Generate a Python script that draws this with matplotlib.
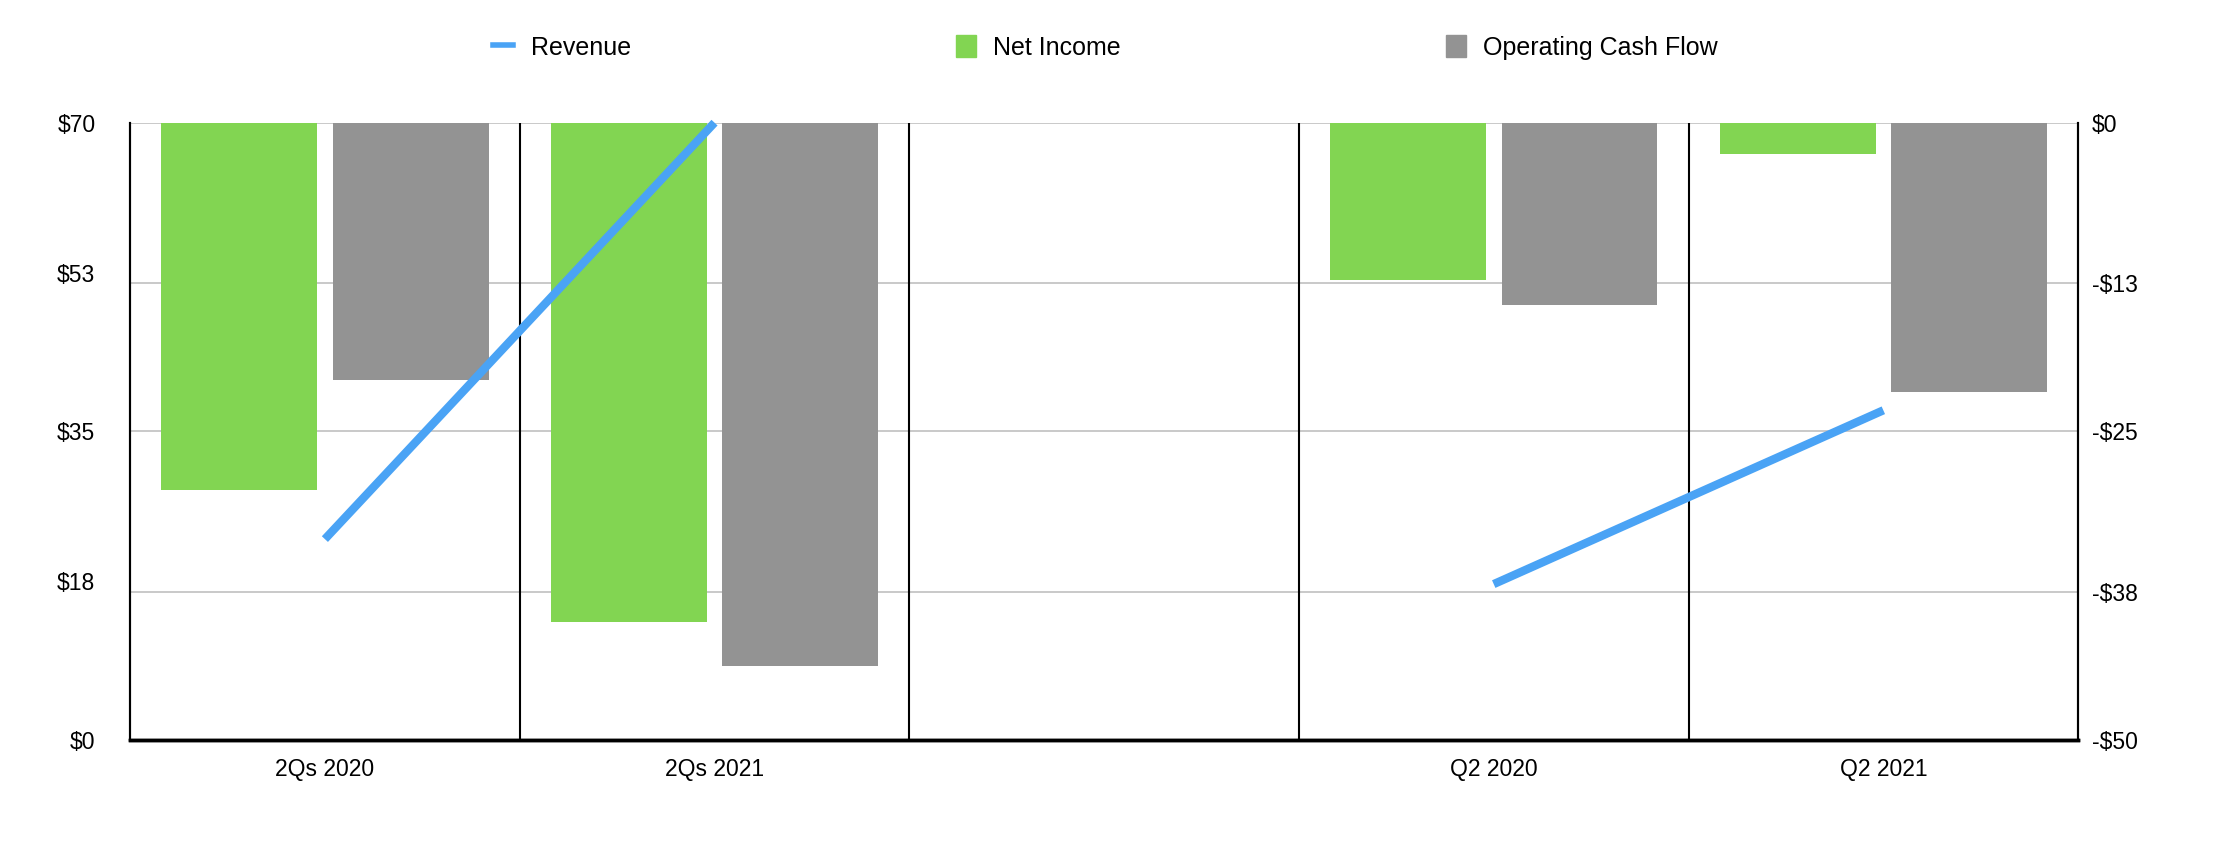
import numpy as np
import matplotlib
matplotlib.use("Agg")
from matplotlib import pyplot as plt
from matplotlib.lines import Line2D
from matplotlib.patches import Patch

plt.rcParams['font.family'] = ['Liberation Sans', 'DejaVu Sans']

categories = ["2Qs 2020", "2Qs 2021", "", "Q2 2020", "Q2 2021"]
revenue = [22.8, 70.0, np.nan, 17.7, 37.4]
net_income = [-29.7, -40.4, np.nan, -12.7, -2.5]
op_cash_flow = [-20.8, -44.0, np.nan, -14.8, -21.8]

left_ticks = [0, 18, 35, 53, 70]
right_ticks = [-50, -38, -25, -13, 0]

green = "#82d552"
grey = "#939393"
blue = "#4aa3f5"

x = np.arange(len(categories))

fig = plt.figure(figsize=(22.2, 8.46), dpi=100)
ax = fig.add_axes([0.0586, 0.125, 0.8775, 0.73])
ax2 = ax.twinx()

# bars on the right (negative) scale, hanging from $0
ax2.bar(x - 0.22, net_income, width=0.4, color=green, zorder=2)
ax2.bar(x + 0.22, op_cash_flow, width=0.4, color=grey, zorder=2)
ax2.set_ylim(-50, 0)
ax2.set_yticks(right_ticks)
ax2.set_yticklabels(["-$%d" % abs(t) if t else "$0" for t in right_ticks])
for t in right_ticks:
    ax2.axhline(t, color="#c0c0c0", lw=1.2, zorder=0)
for b in [0.5, 1.5, 2.5, 3.5]:
    ax2.axvline(b, color="black", lw=1.5, zorder=1)

# revenue line on the left scale, drawn on top
ax.set_zorder(ax2.get_zorder() + 1)
ax.patch.set_visible(False)
ax.plot(x, revenue, color=blue, lw=6, solid_capstyle="butt", zorder=3, clip_on=False)
ax.set_ylim(0, 70)
ax.set_yticks(left_ticks)
ax.set_yticklabels(["$%d" % t for t in left_ticks])
ax.set_xlim(-0.5, 4.5)
ax.set_xticks(x)
ax.set_xticklabels(categories)

for a in (ax, ax2):
    a.tick_params(length=0, labelsize=16.5)
    a.spines['top'].set_visible(False)
    a.spines['left'].set_linewidth(1.5)
    a.spines['right'].set_linewidth(1.5)
    a.spines['bottom'].set_linewidth(2.5)
ax.tick_params(axis='y', pad=25)
ax.tick_params(axis='x', pad=13)
ax2.tick_params(axis='y', pad=10)

handles = [
    Line2D([0], [0], color=blue, lw=4),
    Patch(color=green),
    Patch(color=grey),
]
fig.legend(handles, ["Revenue", "Net Income", "Operating Cash Flow"],
           loc="center", bbox_to_anchor=(0.498, 0.944), ncol=3, frameon=False,
           fontsize=18, handlelength=0.8, handleheight=1.0, handletextpad=0.7,
           columnspacing=13.0)

plt.savefig("out.png", dpi=100)
